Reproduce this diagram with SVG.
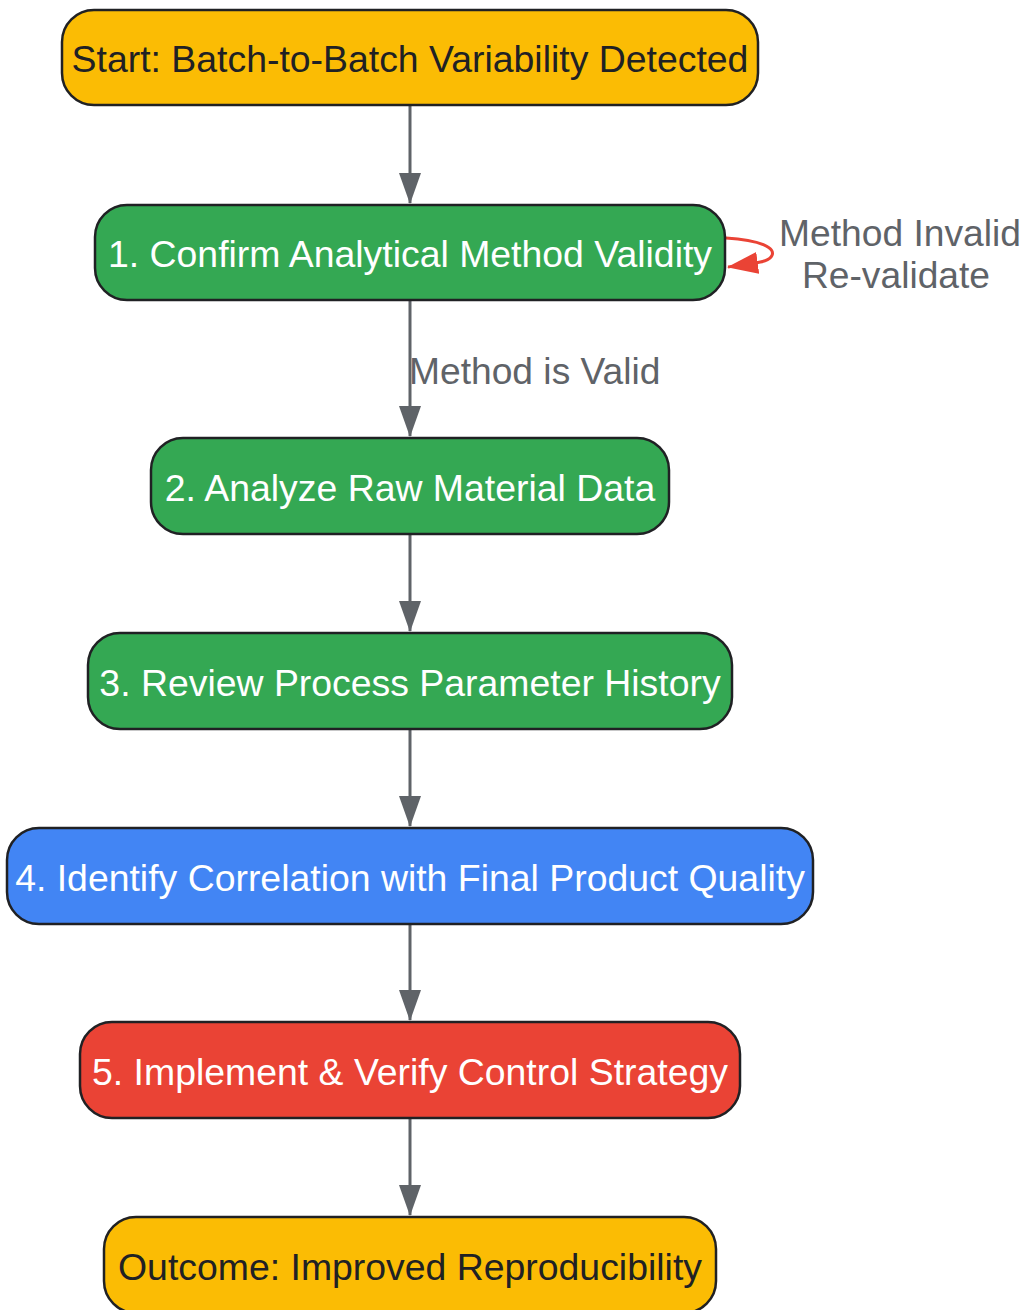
<svg xmlns="http://www.w3.org/2000/svg" width="1023" height="1310" viewBox="0 0 1023 1310">
<style>
.n{stroke:#202124;stroke-width:2.5}
.t{font-family:"Liberation Sans",Arial,sans-serif;font-size:37.4px;text-anchor:middle}
.d{fill:#202124}.w{fill:#ffffff}
.e{stroke:#5f6368;stroke-width:3;fill:none}
.l{font-family:"Liberation Sans",Arial,sans-serif;font-size:37.2px;fill:#5f6368}
</style>
<defs>
<marker id="a" markerUnits="userSpaceOnUse" markerWidth="31" markerHeight="22" refX="30" refY="11" orient="auto" viewBox="0 0 31 22"><path d="M0,0 L31,11 L0,22 Z" fill="#5f6368"/></marker>
<marker id="r" markerUnits="userSpaceOnUse" markerWidth="31" markerHeight="22" refX="30" refY="11" orient="auto" viewBox="0 0 31 22"><path d="M0,0 L31,11 L0,22 Z" fill="#ea4335"/></marker>
</defs>
<g id="edges">
<line class="e" x1="410" y1="105" x2="410" y2="203" marker-end="url(#a)"/>
<line class="e" x1="410" y1="300" x2="410" y2="436" marker-end="url(#a)"/>
<line class="e" x1="410" y1="534" x2="410" y2="631" marker-end="url(#a)"/>
<line class="e" x1="410" y1="729" x2="410" y2="826" marker-end="url(#a)"/>
<line class="e" x1="410" y1="924" x2="410" y2="1020" marker-end="url(#a)"/>
<line class="e" x1="410" y1="1118" x2="410" y2="1215" marker-end="url(#a)"/>
<path d="M726,238 C760,240 778,248 771,257 C767,262 757,263 728,267" fill="none" stroke="#ea4335" stroke-width="3" marker-end="url(#r)"/>
<text class="l" x="409" y="384">Method is Valid</text>
<text class="l" x="900" y="246" text-anchor="middle">Method Invalid</text>
<text class="l" x="896" y="288" text-anchor="middle">Re-validate</text>
</g>
<g id="start"><rect class="n" x="62" y="10" width="696" height="95" rx="32" fill="#fbbc04"/><text class="t d" x="410" y="72">Start: Batch-to-Batch Variability Detected</text></g>
<g id="step1"><rect class="n" x="95" y="205" width="630" height="95" rx="32" fill="#34a853"/><text class="t w" x="410" y="267">1. Confirm Analytical Method Validity</text></g>
<g id="step2"><rect class="n" x="151" y="438" width="518" height="96" rx="32" fill="#34a853"/><text class="t w" x="410" y="501">2. Analyze Raw Material Data</text></g>
<g id="step3"><rect class="n" x="88" y="633" width="644" height="96" rx="32" fill="#34a853"/><text class="t w" x="410" y="696">3. Review Process Parameter History</text></g>
<g id="step4"><rect class="n" x="7" y="828" width="806" height="96" rx="32" fill="#4285f4"/><text class="t w" x="410" y="891">4. Identify Correlation with Final Product Quality</text></g>
<g id="step5"><rect class="n" x="80" y="1022" width="660" height="96" rx="32" fill="#ea4335"/><text class="t w" x="410" y="1085">5. Implement &amp; Verify Control Strategy</text></g>
<g id="outcome"><rect class="n" x="104" y="1217" width="612" height="96" rx="32" fill="#fbbc04"/><text class="t d" x="410" y="1280">Outcome: Improved Reproducibility</text></g>
</svg>
